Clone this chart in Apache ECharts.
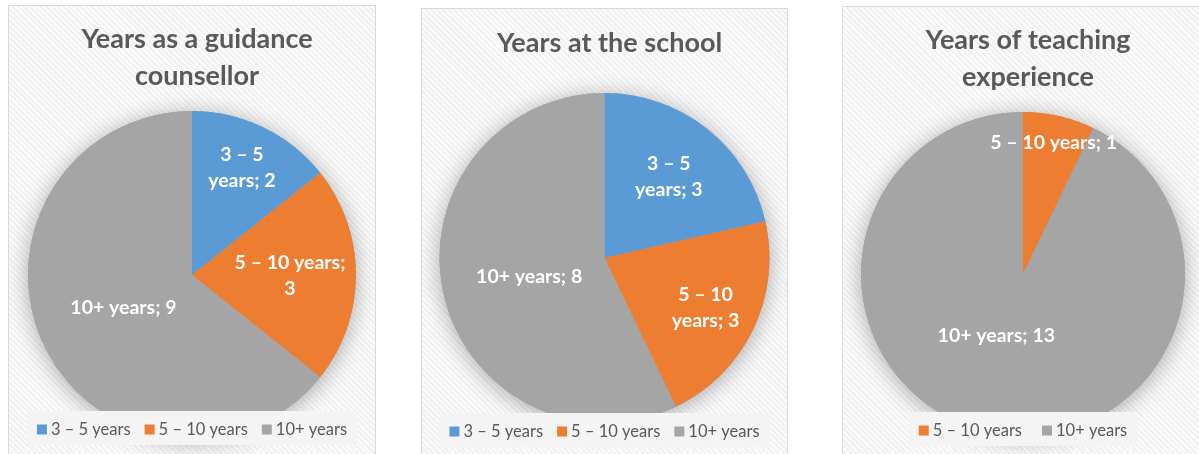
<!DOCTYPE html>
<html><head><meta charset="utf-8">
<script src="https://cdn.jsdelivr.net/npm/echarts@6/dist/echarts.min.js"></script>
<style>
html,body{margin:0;padding:0}
body{width:1199px;height:454px;overflow:hidden;background:#fff;position:relative}
.panel{position:absolute;box-sizing:border-box;border:1px solid #d9d9d9;
background:repeating-linear-gradient(45deg,#f1f1f1 0px,#f1f1f1 2px,#fbfbfb 2px,#fbfbfb 4px)}
</style></head><body>
<div id="p1" class="panel" style="left:8px;top:5px;width:368px;height:470px"></div>
<div id="p2" class="panel" style="left:421px;top:8px;width:367px;height:470px"></div>
<div id="p3" class="panel" style="left:842px;top:6px;width:362px;height:470px"></div>
<script>
// ---- data ----
const titles = ['Years as a guidance\ncounsellor', 'Years at the school', 'Years of teaching\nexperience'];
const cats1 = ['3 – 5 years', '5 – 10 years', '10+ years'];
const vals1 = [2, 3, 9];
const cats2 = ['3 – 5 years', '5 – 10 years', '10+ years'];
const vals2 = [3, 3, 8];
const cats3 = ['5 – 10 years', '10+ years'];
const vals3 = [1, 13];

// ---- style ----
const colorMap = {'3 – 5 years': '#5b9bd5', '5 – 10 years': '#ed7d31', '10+ years': '#a5a5a5'};
const FONT = 'Lato, "Open Sans", sans-serif';
// label line-break style per slice: 'range' => break after range, 'value' => break before value
const breaks = [['range', 'value', 'none'], ['range', 'range', 'none'], ['none', 'none']];
const offsets = [
  [[13, -31], [13, 1], [8, -4]],
  [[11, -14], [24, 13], [8, 0]],
  [[12, -49], [-8, -20]]
];
const layouts = [
  {cy: 269, r: 164, titleTop: 10, legendTop: 405, gap: 14},
  {cy: 249, r: 165, titleTop: 11, legendTop: 404, gap: 14},
  {cy: 267, r: 162, titleTop: 10, legendTop: 405, gap: 20}
];
const allCats = [cats1, cats2, cats3];
const allVals = [vals1, vals2, vals3];

function fmtLabel(name, val, mode) {
  if (mode === 'range') return name.replace(' years', '\nyears') + '; ' + val;
  if (mode === 'value') return name + ';\n' + val;
  return name + '; ' + val;
}

['p1', 'p2', 'p3'].forEach(function (id, i) {
  const chart = echarts.init(document.getElementById(id), null, {renderer: 'canvas'});
  const cats = allCats[i], vals = allVals[i], L = layouts[i];
  const data = cats.map(function (c, k) {
    return {name: c, value: vals[k], itemStyle: {color: colorMap[c]}};
  });
  chart.setOption({
    animation: false,
    title: {
      text: titles[i], left: '50%', top: L.titleTop, textAlign: 'center',
      textStyle: {fontFamily: FONT, fontSize: 27, fontWeight: 'bold', color: '#595959', lineHeight: 37}
    },
    legend: {
      data: cats, top: L.legendTop, left: 'center', z: 20,
      icon: 'rect', itemWidth: 10, itemHeight: 10, itemGap: L.gap,
      padding: [10, 10, 7, 10], backgroundColor: '#f4f4f4',
      textStyle: {fontFamily: FONT, fontSize: 16.5, color: '#595959', padding: [0, 0, 0, -1]},
      selectedMode: false
    },
    series: [
      {
        name: 'shadow', type: 'pie', silent: true, z: 1,
        center: ['50%', L.cy], radius: L.r,
        label: {show: false}, labelLine: {show: false},
        emphasis: {disabled: true},
        itemStyle: {color: '#a5a5a5', shadowBlur: 22, shadowColor: 'rgba(0,0,0,0.32)', shadowOffsetY: 3},
        data: [{name: '_bg', value: 1}]
      },
      {
        name: 'pie', type: 'pie', z: 2,
        center: ['50%', L.cy], radius: L.r,
        startAngle: 90, clockwise: true, avoidLabelOverlap: false,
        emphasis: {disabled: true},
        itemStyle: {borderWidth: 0},
        label: {
          show: true, position: 'inside', color: '#ffffff', fontFamily: FONT,
          fontSize: 19.5, fontWeight: 'bold', lineHeight: 26, align: 'center',
          formatter: function (p) { return fmtLabel(p.name, p.value, breaks[i][p.dataIndex]); }
        },
        labelLine: {show: false},
        labelLayout: function (p) {
          const o = offsets[i][p.dataIndex];
          return {dx: o[0], dy: o[1]};
        },
        data: data
      }
    ]
  });
});
</script>
</body></html>
